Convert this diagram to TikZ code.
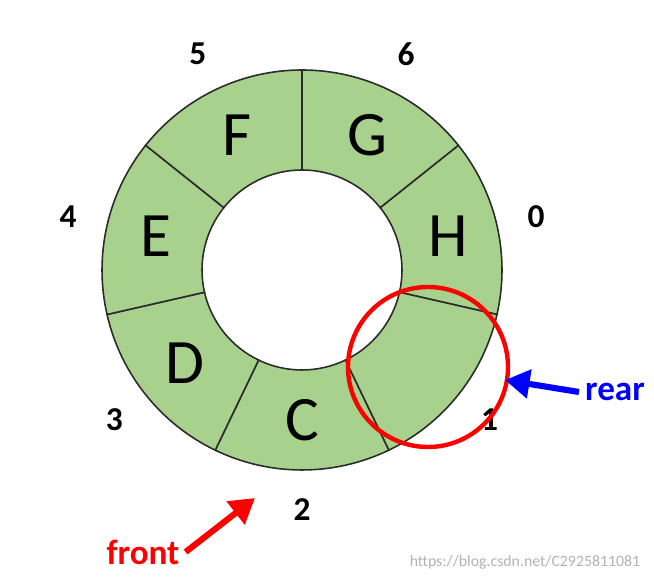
\documentclass[tikz,border=0pt]{standalone}
\usepackage{fontspec}
\setmainfont{Carlito}
\usetikzlibrary{arrows.meta}
\definecolor{segfill}{HTML}{A9D18E}
\definecolor{segline}{HTML}{2B2B2B}

\begin{document}
\begin{tikzpicture}[
		seg/.style={draw=segline, line width=0.9pt, fill=segfill},
		letter/.style={font=\fontsize{36}{40}\selectfont},
		idx/.style={font=\fontsize{19}{22}\selectfont\bfseries},
		pointer/.style={line width=3.5pt, -{Triangle[length=14pt, width=16pt]}}
	]
		\useasboundingbox (0,0) rectangle (13.08,11.64);
		% Ring of seven slots
		\begin{scope}[shift={(6.04,6.24)}]
			\foreach \k/\txt in {0/H, 1/, 2/C, 3/D, 4/E, 5/F, 6/G} {
				\pgfmathsetmacro{\aone}{90-mod(\k+1,7)*360/7}
				\pgfmathsetmacro{\atwo}{\aone-360/7}
				\pgfmathsetmacro{\amid}{\aone-180/7}
				\draw[seg] (\aone:2) -- (\aone:4) arc[start angle=\aone, end angle=\atwo, radius=4]
					-- (\atwo:2) arc[start angle=\atwo, end angle=\aone, radius=2] -- cycle;
				\node[letter] (slot\k) at (\amid:3) {\txt};
				\node[idx] (idx\k) at (\amid:4.8) {\k};
			}
		\end{scope}
		
		% Rear marker
		\node[circle, draw=red, line width=2.5pt, minimum size=3.2cm] (mark) at (8.56,4.30) {};
		\node[font=\fontsize{20}{24}\selectfont\bfseries, text=blue] (rear) at (12.3,3.80) {rear};
		\coordinate (reartip) at (10.1,4.04);
		\draw[pointer, blue] (rear.west) -- (reartip);
		
		% Front marker
		\node[font=\fontsize{20}{24}\selectfont\bfseries, text=red] (front) at (2.86,0.6) {front};
		\coordinate (fronttip) at (5.1,1.68);
		\draw[pointer, red] (front.east) -- (fronttip);
		
		\node[font=\fontsize{9}{10}\selectfont, text=gray!60] (mark2) at (10.5,0.4) {https://blog.csdn.net/C2925811081};
	\end{tikzpicture}
\end{document}
